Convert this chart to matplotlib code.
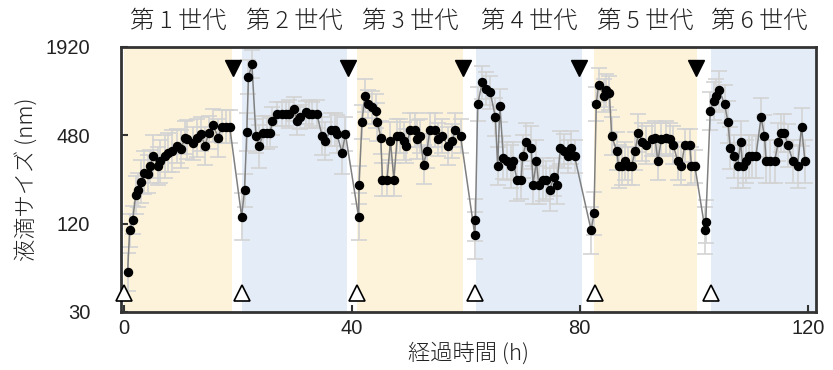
import numpy as np
import matplotlib.pyplot as plt
import matplotlib.transforms as mtransforms

plt.rcParams['font.family'] = ['Liberation Sans', 'Noto Sans CJK JP', 'DejaVu Sans']

# time (h) and droplet size (nm)
t = [0.7, 1.05, 1.6, 2.1, 2.6, 3.1, 3.5, 4.2, 4.6, 5.2, 6.0, 6.3, 7.2, 7.7, 8.4, 9.4, 10.0,
     10.8, 11.2, 12.2, 12.9, 13.5, 14.3, 14.9, 15.7, 16.6, 17.2, 18.0, 18.6,
     20.7, 21.2, 21.6, 21.9, 22.5, 23.2, 23.8, 24.5, 25.1, 25.7, 26.1, 26.9, 27.8, 28.4, 29.0,
     29.8, 30.4, 31.0, 31.9, 32.5, 33.1, 33.9, 34.8, 35.4, 36.3, 37.0, 37.4, 38.3, 38.9,
     41.2, 41.3, 41.8, 42.3, 42.9, 43.5, 44.2, 44.5, 45.1, 45.4, 46.2, 46.8, 47.4, 48.0, 48.5,
     49.1, 49.5, 50.3, 51.1, 51.4, 52.0, 52.6, 53.2, 53.7, 54.6, 55.2, 55.9, 56.9, 57.6, 58.2, 59.1,
     61.6, 61.7, 62.1, 62.9, 63.5, 64.3, 65.2, 65.6, 66.0, 66.6, 67.3, 67.9, 68.3, 69.0, 69.7,
     70.0, 70.6, 71.5, 71.8, 72.4, 72.8, 73.5, 74.1, 74.7, 75.5, 76.0, 76.6, 77.3, 77.9, 78.5, 79.1,
     82.0, 82.5, 82.9, 83.3, 84.2, 84.6, 85.2, 85.6, 86.5, 86.8, 87.4, 87.9, 88.5, 89.1, 89.7,
     90.3, 91.0, 91.7, 92.6, 93.2, 93.7, 94.3, 95.2, 95.8, 96.4, 97.2, 97.8, 98.4, 99.3, 99.6, 100.2,
     102.0, 102.1, 102.9, 103.5, 103.9, 104.5, 105.4, 106.0, 106.4, 107.1, 107.7, 108.2, 108.6,
     109.2, 109.7, 110.3, 110.9, 111.8, 112.4, 112.7, 113.3, 114.2, 114.8, 115.3, 115.9, 116.5,
     117.4, 118.2, 118.9, 119.5]
size = [56, 108, 127, 188, 204, 232, 266, 260, 295, 345, 295, 320, 345, 366, 375, 405, 385,
        462, 450, 422, 462, 490, 405, 500, 560, 462, 550, 550, 550,
        134, 202, 507, 1200, 1470, 475, 405, 500, 500, 500, 600, 670, 670, 670, 670,
        725, 600, 640, 690, 670, 670, 670, 475, 440, 525, 525, 490, 366, 490,
        134, 221, 592, 895, 783, 745, 705, 592, 462, 239, 239, 440, 239, 475, 475,
        440, 405, 520, 520, 450, 475, 303, 375, 520, 520, 450, 475, 405, 440, 520, 475,
        100, 127, 783, 1100, 1000, 940, 640, 295, 765, 337, 320, 295, 320, 239, 239,
        345, 430, 395, 221, 320, 221, 239, 239, 204, 250, 221, 395, 375, 345, 395, 345,
        108, 141, 783, 1060, 895, 970, 930, 475, 375, 295, 295, 320, 295, 295, 375,
        500, 430, 410, 450, 462, 320, 450, 462, 450, 410, 320, 295, 410, 410, 295, 295,
        108, 124, 705, 826, 895, 970, 783, 592, 393, 345, 295, 430, 295,
        320, 345, 345, 345, 640, 475, 320, 320, 320, 430, 500, 500, 410,
        320, 295, 550, 320]
err_frac = [0.35, 0.3, 0.25, 0.35, 0.3, 0.4, 0.4, 0.35, 0.3, 0.4, 0.35, 0.4, 0.4, 0.35, 0.4, 0.3, 0.35,
            0.3, 0.35, 0.3, 0.35, 0.3, 0.35, 0.3, 0.3, 0.35, 0.3, 0.3, 0.3,
            0.45, 0.3, 0.35, 0.3, 0.25, 0.3, 0.4, 0.3, 0.3, 0.25, 0.25, 0.2, 0.2, 0.2, 0.25,
            0.2, 0.25, 0.2, 0.2, 0.25, 0.2, 0.25, 0.35, 0.35, 0.3, 0.3, 0.35, 0.4, 0.3,
            0.45, 0.35, 0.3, 0.3, 0.25, 0.3, 0.3, 0.35, 0.3, 0.3, 0.3, 0.35, 0.3, 0.3, 0.3,
            0.35, 0.3, 0.3, 0.3, 0.35, 0.3, 0.35, 0.3, 0.3, 0.3, 0.3, 0.3, 0.35, 0.3, 0.3, 0.3,
            0.45, 0.4, 0.3, 0.3, 0.3, 0.3, 0.35, 0.35, 0.3, 0.4, 0.35, 0.4, 0.35, 0.4, 0.35,
            0.4, 0.35, 0.4, 0.35, 0.4, 0.35, 0.4, 0.35, 0.4, 0.35, 0.35, 0.3, 0.3, 0.3, 0.3, 0.3,
            0.45, 0.4, 0.3, 0.3, 0.3, 0.3, 0.3, 0.35, 0.35, 0.4, 0.35, 0.35, 0.35, 0.35, 0.35,
            0.35, 0.35, 0.35, 0.3, 0.3, 0.35, 0.3, 0.3, 0.3, 0.35, 0.35, 0.35, 0.3, 0.3, 0.35, 0.3,
            0.45, 0.4, 0.35, 0.35, 0.3, 0.35, 0.35, 0.4, 0.4, 0.4, 0.4, 0.4, 0.4,
            0.4, 0.4, 0.4, 0.4, 0.35, 0.4, 0.4, 0.4, 0.4, 0.35, 0.35, 0.35, 0.4,
            0.4, 0.4, 0.35, 0.4]

gen_labels = ['第 1 世代', '第 2 世代', '第 3 世代', '第 4 世代', '第 5 世代', '第 6 世代']
gen_start = [0, 20.7, 41.0, 61.8, 82.5, 103.0]
gen_end = [19.0, 39.2, 59.6, 80.4, 100.5, 121.5]
gen_colors = ['#fdf3da', '#e4edf7', '#fdf3da', '#e4edf7', '#fdf3da', '#e4edf7']
dilution_t = [19.1, 39.3, 59.6, 79.9, 100.4]      # filled triangles
start_t = [0, 20.7, 40.9, 61.6, 82.6, 103.0]      # open triangles

t = np.array(t)
size = np.array(size, dtype=float)
err_frac = np.array(err_frac)
lower = size - size / (1 + err_frac)
upper = size * err_frac

cjk = ['Noto Sans CJK JP', 'DejaVu Sans']
txt_col = '#222222'

fig = plt.figure(figsize=(8.33, 3.7), dpi=100)
ax = fig.add_axes([0.145, 0.157, 0.835, 0.716])

for s, e, c in zip(gen_start, gen_end, gen_colors):
    ax.axvspan(s, e, color=c, lw=0, zorder=0)

ax.errorbar(t, size, yerr=[lower, upper], fmt='none', ecolor='#d3d3d3',
            elinewidth=1.2, capsize=6, capthick=1.2, zorder=1)
ax.plot(t, size, '-', color='#808080', lw=1.1, zorder=2)
ax.plot(t, size, 'o', color='black', ms=5.8, zorder=3)

trans = mtransforms.blended_transform_factory(ax.transData, ax.transAxes)
ax.plot(dilution_t, [0.92] * len(dilution_t), 'v', color='black', ms=11,
        transform=trans, clip_on=False, zorder=4)
ax.plot(start_t, [0.07] * len(start_t), '^', mfc='white', mec='black', mew=1.2, ms=11,
        transform=trans, clip_on=False, zorder=4)

for s, e, lab in zip(gen_start, gen_end, gen_labels):
    ax.text((s + min(e, 120)) / 2, 1.095, lab, transform=trans, ha='center', va='center',
            fontsize=17.5, family=cjk, fontweight='light', color=txt_col)

ax.set_yscale('log')
ax.set_ylim(30, 1920)
ax.set_xlim(-0.5, 121.5)
ax.set_yticks([30, 120, 480, 1920])
ax.set_yticklabels(['30', '120', '480', '1920'])
ax.minorticks_off()
ax.set_xticks([0, 40, 80, 120])
ax.tick_params(direction='in', labelsize=14.5, length=5, width=1.5, color='#333333',
               labelcolor=txt_col)
ax.tick_params(axis='y', pad=22)
ax.tick_params(axis='x', pad=5)

for sp in ax.spines.values():
    sp.set_linewidth(2)
    sp.set_color('#333333')

ax.set_xlabel('経過時間 (h)', fontsize=16, labelpad=3, family=cjk,
              fontweight='light', color=txt_col)
ax.set_ylabel('液滴サイズ (nm)', fontsize=16, labelpad=6, family=cjk,
              fontweight='light', color=txt_col)

fig.savefig('out.png', dpi=100)
